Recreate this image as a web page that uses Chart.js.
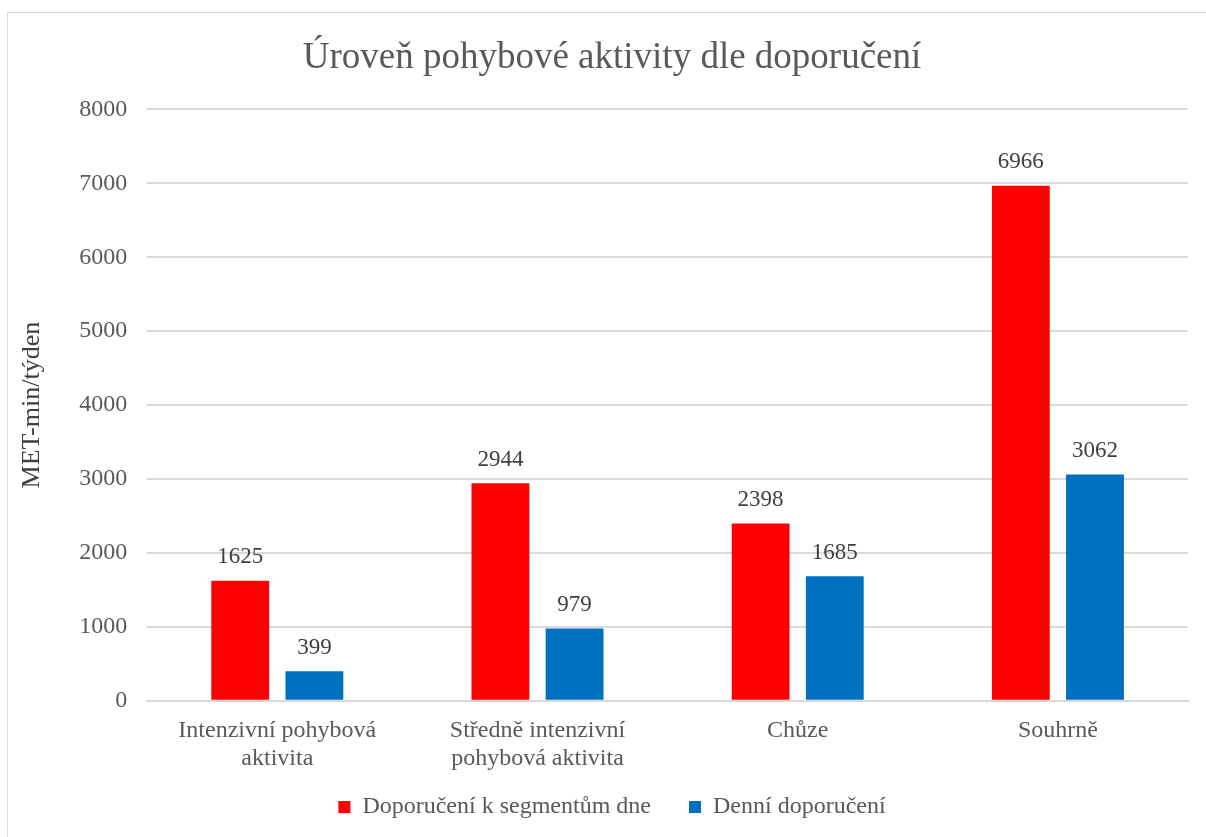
<!DOCTYPE html>
<html>
<head>
<meta charset="utf-8">
<script src="https://cdn.jsdelivr.net/npm/chart.js@4/dist/chart.umd.min.js"></script>
<style>
  html, body { margin: 0; padding: 0; background: #fff; overflow: hidden; }
  #frame { position: absolute; left: 7px; top: 12px; width: 1220px; height: 850px; border: 1px solid #d9d9d9; box-sizing: border-box; }
  #wrap { position: absolute; left: 0; top: 0; width: 1206px; height: 837px; }
</style>
</head>
<body>
<div id="frame"></div>
<div id="wrap"><canvas id="mycanvas"></canvas></div>
<script>
var kategorie = [["Intenzivní pohybová", "aktivita"], ["Středně intenzivní", "pohybová aktivita"], "Chůze", "Souhrně"];
var segmenty = [1625, 2944, 2398, 6966];
var denni = [399, 979, 1685, 3062];
var yTicks = [0, 1000, 2000, 3000, 4000, 5000, 6000, 7000, 8000];

var serif = "'Liberation Serif', 'Times New Roman', serif";

// popisky hodnot nad sloupci
var hodnoty = {
  id: 'hodnoty',
  afterDatasetsDraw: function(chart) {
    var ctx = chart.ctx;
    ctx.save();
    ctx.font = "23px " + serif;
    ctx.fillStyle = "#404040";
    ctx.textAlign = "center";
    ctx.textBaseline = "bottom";
    chart.data.datasets.forEach(function(ds, i) {
      chart.getDatasetMeta(i).data.forEach(function(bar, j) {
        ctx.fillText(ds.data[j], bar.x, bar.y - 12);
      });
    });
    ctx.restore();
  }
};

var ctx = document.getElementById("mycanvas");
var graf = new Chart(ctx, {
  type: 'bar',
  data: {
    labels: kategorie,
    datasets: [
      { label: "Doporučení k segmentům dne", data: segmenty, backgroundColor: "#ff0000" },
      { label: "Denní doporučení", data: denni, backgroundColor: "#0070c0" }
    ]
  },
  options: {
    responsive: true,
    maintainAspectRatio: false,
    animation: false,
    categoryPercentage: 0.57,
    barPercentage: 0.78,
    layout: { padding: { left: 36, right: 18, top: 36, bottom: 8 } },
    plugins: {
      title: {
        display: true,
        text: "Úroveň pohybové aktivity dle doporučení",
        color: "#595959",
        font: { family: serif, size: 37, weight: 'normal' },
        padding: { top: 0, bottom: 29 }
      },
      legend: {
        position: 'bottom',
        labels: {
          color: "#595959",
          font: { family: serif, size: 24 },
          boxWidth: 12,
          boxHeight: 12,
          padding: 14,
          generateLabels: function(chart) {
            var items = Chart.defaults.plugins.legend.labels.generateLabels(chart);
            items[0].text = items[0].text + "    ";
            return items;
          }
        }
      },
      tooltip: { enabled: false }
    },
    scales: {
      x: {
        grid: { display: false },
        border: { color: "#d9d9d9", width: 2 },
        ticks: { color: "#595959", font: { family: serif, size: 24, lineHeight: 1.17 }, maxRotation: 0, padding: 8 }
      },
      y: {
        min: 0,
        max: 8000,
        afterBuildTicks: function(axis) { axis.ticks = yTicks.map(function(v) { return { value: v }; }); },
        grid: { color: "#d9d9d9", lineWidth: 2, drawTicks: false },
        border: { display: false },
        ticks: { color: "#595959", font: { family: serif, size: 24 }, padding: 20, callback: function(v) { return String(v); } },
        title: {
          display: true,
          text: "MET-min/týden",
          color: "#404040",
          font: { family: serif, size: 26 },
          padding: { top: -19, bottom: 11 }
        }
      }
    }
  },
  plugins: [hodnoty]
});
</script>
</body>
</html>
